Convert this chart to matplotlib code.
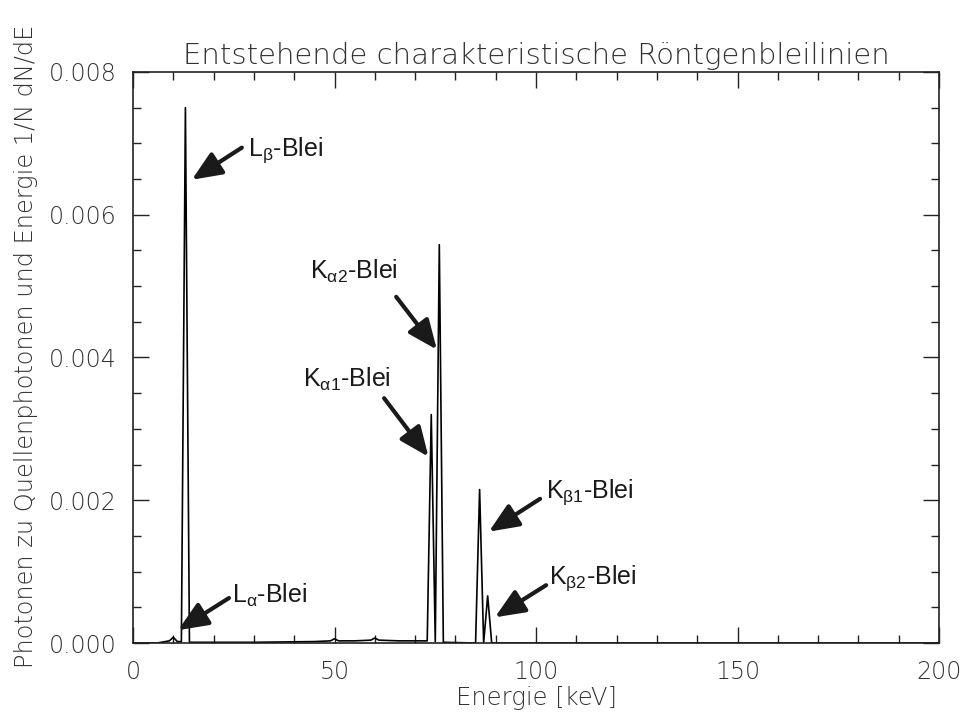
import matplotlib.pyplot as plt
import numpy as np
from matplotlib.ticker import MultipleLocator, FormatStrFormatter

# spectrum (energy in keV, 1/N dN/dE)
energie = [0, 6, 8, 9, 10, 11, 12, 13, 14, 30, 45, 49, 50, 51, 55, 59, 60, 61, 66,
           72, 73, 74, 75, 76, 77, 85, 86, 87, 88, 89, 200]
werte = [0, 0, 0.00002, 0.00003, 0.00008, 0.00002, 0.00002, 0.0075, 0.00001, 0.00001,
         0.00002, 0.00003, 0.00006, 0.00003, 0.00003, 0.00004, 0.00007, 0.00004, 0.00003,
         0.00003, 0.00003, 0.0032, 0.00002, 0.00558, 0.00001, 0, 0.00215, 0, 0.00066, 0, 0]

# labels: main letter, subscript, text pos, arrow tail, arrow head
linien = ["L", "L", "K", "K", "K", "K"]
indizes = ["β", "α", "α2", "α1", "β1", "β2"]
text_pos = [(28.5, 0.00691), (24.6, 0.00067), (43.9, 0.0052), (42.2, 0.0037),
            (102.5, 0.00212), (103.2, 0.00091)]
pfeil_von = [(27.0, 0.00694), (23.8, 0.00063), (65.3, 0.00485), (62.3, 0.00343),
             (101.0, 0.00202), (102.5, 0.00081)]
pfeil_zu = [(14.6, 0.00649), (11.2, 0.00018), (75.4, 0.00411), (73.3, 0.00261),
            (88.3, 0.00156), (89.8, 0.00036)]

fig = plt.figure(figsize=(9.66, 7.17), dpi=100)
ax = fig.add_axes([0.1377, 0.1032, 0.8344, 0.7964])

ax.plot(energie, werte, color='black', lw=1.2)
ax.set_xlim(0, 200)
ax.set_ylim(0, 0.008)

thin = dict(family='DejaVu Sans', fontweight=200, color='#333333')
ax.set_title("Entstehende charakteristische Röntgenbleilinien", fontsize=21, pad=6, **thin)
ax.set_xlabel("Energie [keV]", fontsize=17.5, labelpad=2, **thin)
ax.set_ylabel("Photonen zu Quellenphotonen und Energie 1/N dN/dE", fontsize=17.3, **thin)
ax.yaxis.set_label_coords(-0.118, 0.52)

ax.xaxis.set_major_locator(MultipleLocator(50))
ax.xaxis.set_minor_locator(MultipleLocator(10))
ax.yaxis.set_major_locator(MultipleLocator(0.002))
ax.yaxis.set_minor_locator(MultipleLocator(0.0005))
ax.yaxis.set_major_formatter(FormatStrFormatter('%.3f'))
ax.tick_params(which='both', direction='in', top=True, right=True, width=1.0, color='#222222')
ax.tick_params(which='major', length=11.5, pad=12, labelsize=17, labelcolor='#333333')
ax.tick_params(which='minor', length=5.8)
for lab in ax.get_xticklabels() + ax.get_yticklabels():
    lab.set_fontweight(200)
for sp in ax.spines.values():
    sp.set_linewidth(1.2)
    sp.set_color('#222222')

for name, idx, tp, a, b in zip(linien, indizes, text_pos, pfeil_von, pfeil_zu):
    ax.annotate('', xy=b, xytext=a,
                arrowprops=dict(arrowstyle='-|>,head_length=0.75,head_width=0.32',
                                mutation_scale=24, lw=3, color='#1a1a1a',
                                shrinkA=0, shrinkB=0))
    ax.text(tp[0], tp[1], name + r'$_{\mathregular{' + idx + '}}$' + '-Blei',
            family='Liberation Sans', fontsize=18, ha='left', va='center', color='#1a1a1a')

fig.savefig('out.png', dpi=100)
